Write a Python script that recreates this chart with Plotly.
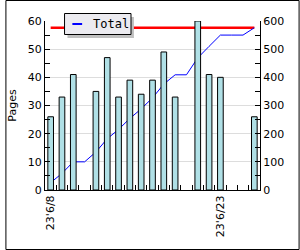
import plotly.graph_objects as go

categories = ["23'6/%d" % d for d in range(8, 27)]
pages = [26, 33, 41, None, 35, 47, 33, 39, 34, 39, 49, 33, None, 60, 41, 40, None, None, 26]
total = [26, 59, 100, 100, 135, 182, 215, 254, 288, 327, 376, 409, 409, 469, 510, 550, 550, 550, 576]
target = [576] * 19
shown_labels = {"23'6/8": "23'6/8", "23'6/23": "23'6/23"}
ticktext = [shown_labels.get(c, "") for c in categories]

font = "DejaVu Sans, Verdana, sans-serif"

fig = go.Figure()
# lines on primary (right) axis, drawn below bars
fig.add_trace(go.Scatter(x=categories, y=target, mode="lines",
                         line=dict(color="#ff0000", width=2.5), yaxis="y",
                         showlegend=False, hoverinfo="skip"))
fig.add_trace(go.Scatter(x=categories, y=total, mode="lines", name="Total",
                         line=dict(color="#0000ff", width=1), yaxis="y",
                         showlegend=False))
fig.add_trace(go.Bar(x=categories, y=pages, yaxis="y2",
                     marker=dict(color="#b0e0e6", line=dict(color="#000000", width=1)),
                     showlegend=False))

fig.update_layout(
    width=300, height=250,
    margin=dict(l=40, r=40, t=21, b=60),
    paper_bgcolor="white", plot_bgcolor="white",
    bargap=0.5,
    font=dict(family=font, size=11, color="#000000"),
    xaxis=dict(type="category", tickmode="array", tickvals=categories, ticktext=ticktext,
               tickson="boundaries", ticks="inside", ticklen=5, tickcolor="#000",
               tickangle=-90, showline=True, linecolor="#000", linewidth=1,
               showgrid=False, tickfont=dict(size=11), range=[-0.5, 18.5]),
    yaxis=dict(side="right", range=[0, 600], tickvals=[0, 100, 200, 300, 400, 500, 600],
               ticks="inside", ticklen=5, tickcolor="#000", showline=True,
               linecolor="#000", linewidth=1, showgrid=False, zeroline=False,
               minor=dict(ticks="inside", ticklen=5, dtick=50, tickcolor="#000"),
               tickfont=dict(size=11)),
    yaxis2=dict(overlaying="y", side="left", range=[0, 60], dtick=10,
                ticks="inside", ticklen=5, tickcolor="#000", showline=True,
                linecolor="#000", linewidth=1, showgrid=True, gridcolor="#dddddd",
                zeroline=False,
                minor=dict(ticks="inside", ticklen=5, dtick=5, tickcolor="#000"),
                title=dict(text="Pages", standoff=8, font=dict(size=11)),
                tickfont=dict(size=11)),
    showlegend=False,
    shapes=[
        # outer border
        dict(type="rect", xref="paper", yref="paper", x0=-40/220, x1=1+40/220,
             y0=-60/169 + 0.5/169, y1=1+21/169 - 0.5/169, line=dict(color="#000", width=1)),
        # legend shadow
        dict(type="rect", xref="paper", yref="paper",
             x0=(63-40)/220, x1=(131-40)/220,
             y0=(190-38)/169, y1=(190-17)/169,
             fillcolor="#c0c0c0", line=dict(width=0), layer="above"),
        # legend box
        dict(type="rect", xref="paper", yref="paper",
             x0=(60-40)/220, x1=(128-40)/220,
             y0=(190-34.5)/169, y1=(190-13.5)/169,
             fillcolor="#ecebf0", line=dict(color="#000", width=1), layer="above"),
        # legend line sample
        dict(type="line", xref="paper", yref="paper",
             x0=(68-40)/220, x1=(78-40)/220,
             y0=(190-24)/169, y1=(190-24)/169,
             line=dict(color="#0000ff", width=2), layer="above"),
    ],
    annotations=[
        dict(text="Total", xref="paper", yref="paper",
             x=(87-40)/220, y=(190-24)/169, xanchor="left", yanchor="middle",
             showarrow=False, font=dict(family="DejaVu Sans Mono, monospace", size=12, color="#000")),
    ],
)

fig.write_html("out.html")
